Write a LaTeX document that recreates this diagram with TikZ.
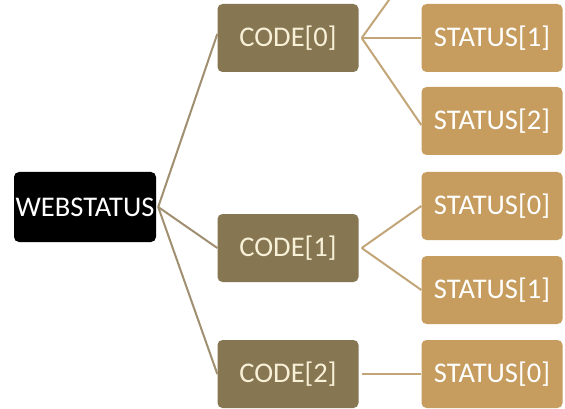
\documentclass[tikz,border=0pt]{standalone}
\usepackage{fontspec}
\setmainfont{Carlito}
\definecolor{codefill}{RGB}{134,118,82}
\definecolor{statfill}{RGB}{198,157,94}
\definecolor{rootline}{RGB}{160,143,112}
\definecolor{leafline}{RGB}{194,166,120}
\definecolor{codetext}{RGB}{248,240,215}
\begin{document}
\begin{tikzpicture}[x=1pt,y=-1pt,
  box/.style={rectangle,rounded corners=5pt,inner sep=0pt,font=\fontsize{28.5}{30}\selectfont},
  rootbox/.style={box,fill=black,text=white,minimum width=142pt,minimum height=70pt},
  codebox/.style={box,fill=codefill,text=codetext,minimum width=141pt,minimum height=68pt},
  statbox/.style={box,fill=statfill,text=white,minimum width=141pt,minimum height=68pt},
  rl/.style={draw=rootline,line width=2pt},
  ll/.style={draw=leafline,line width=2pt}]
\useasboundingbox (0,0) rectangle (565,409);
\clip (0,0) rectangle (565,409);
\fill[white] (0,0) rectangle (565,409);
\node[rootbox] (web) at (85,207) {WEBSTATUS};
\node[codebox] (c0) at (288,38) {CODE[0]};
\node[codebox] (c1) at (288,248) {CODE[1]};
\node[codebox] (c2) at (288,374) {CODE[2]};
\node[statbox] (s01) at (492,38) {STATUS[1]};
\node[statbox] (s02) at (492,121) {STATUS[2]};
\node[statbox] (s10) at (492,206) {STATUS[0]};
\node[statbox] (s11) at (492,290) {STATUS[1]};
\node[statbox] (s20) at (492,374) {STATUS[0]};
\coordinate (hidden) at (422,-46);
\draw[rl] ([xshift=2pt]web.east) -- ([yshift=4pt]c0.west);
\draw[rl] ([xshift=2pt]web.east) -- (c1.west);
\draw[rl] ([xshift=2pt]web.east) -- (c2.west);
\draw[ll] ([xshift=3pt]c0.east) -- (hidden);
\draw[ll] ([xshift=3pt]c0.east) -- (s01.west);
\draw[ll] ([xshift=3pt]c0.east) -- ([yshift=-4pt]s02.west);
\draw[ll] ([xshift=3pt]c1.east) -- (s10.west);
\draw[ll] ([xshift=3pt]c1.east) -- (s11.west);
\draw[ll] ([xshift=3pt]c2.east) -- (s20.west);
\end{tikzpicture}
\end{document}
